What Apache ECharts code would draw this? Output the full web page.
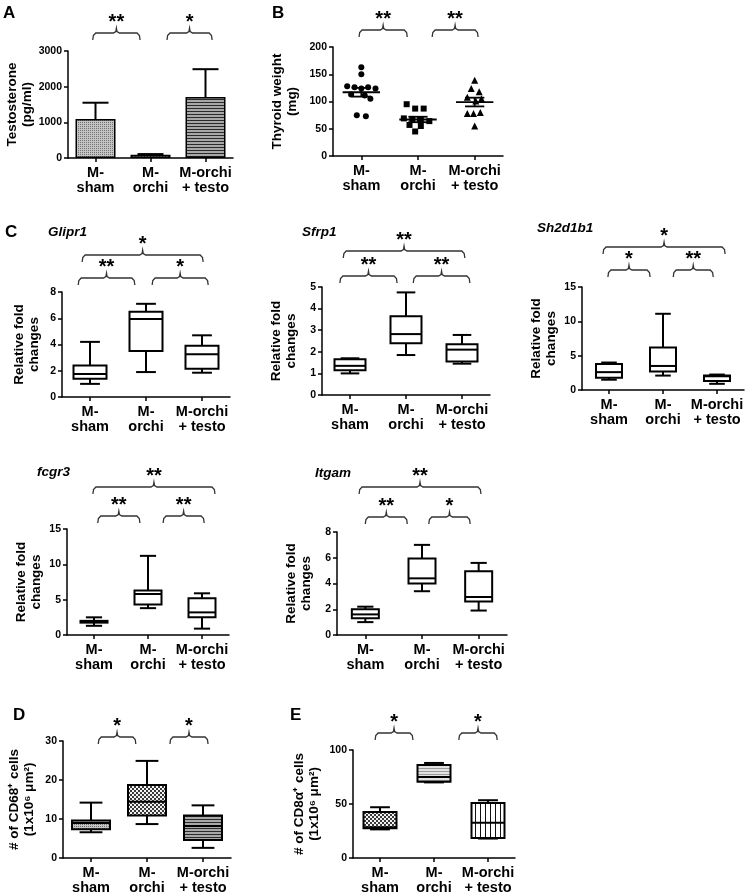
<!DOCTYPE html>
<html><head><meta charset="utf-8">
<script src="https://cdn.jsdelivr.net/npm/echarts@6/dist/echarts.min.js"></script>
<style>html,body{margin:0;padding:0;background:#fff}#c{width:750px;height:895px}</style>
</head><body><div id="c"></div>
<script>
// ---------------- DATA ----------------
const groups = ['M-\nsham', 'M-\norchi', 'M-orchi\n+ testo'];

// A: testosterone (pg/ml) mean and upper error
const testosteroneMean = [1090, 90, 1710];
const testosteroneUpper = [1550, 110, 2490];
const sigA = [[0, 1, '**'], [1, 2, '*']];

// B: thyroid weight (mg), individual animals
const thyroidSham  = [163, 150, 128, 126, 124, 126, 124, 113, 111, 105, 75, 73];
const thyroidOrchi = [95, 87, 87, 69, 68, 66, 64, 57, 55, 45];
const thyroidTesto = [139, 124, 118, 108, 105, 101, 78, 78, 80, 55];
const thyroidMean = [117, 67, 99];
const thyroidSem  = [8, 5, 8];
const sigB = [[0, 1, '**'], [1, 2, '**']];

// C: relative fold changes, boxes as [min, q1, median, q3, max]
const glipr1  = [[1.0, 1.4, 1.75, 2.4, 4.2], [1.9, 3.5, 5.95, 6.5, 7.1], [1.85, 2.15, 3.25, 3.9, 4.7]];
const sfrp1   = [[1.0, 1.15, 1.35, 1.65, 1.7], [1.85, 2.4, 2.82, 3.65, 4.75], [1.45, 1.55, 2.1, 2.35, 2.78]];
const sh2d1b1 = [[1.5, 1.8, 2.6, 3.8, 4.0], [2.1, 2.7, 3.5, 6.2, 11.1], [0.9, 1.3, 2.0, 2.1, 2.25]];
const fcgr3   = [[1.3, 1.75, 1.9, 2.0, 2.5], [3.8, 4.3, 5.8, 6.3, 11.2], [0.9, 2.5, 3.2, 5.2, 5.9]];
const itgam   = [[1.0, 1.3, 1.6, 2.0, 2.2], [3.4, 4.0, 4.4, 5.95, 7.0], [1.9, 2.6, 2.95, 4.95, 5.6]];
const sigGlipr1  = [[0, 2, '*'],  [0, 1, '**'], [1, 2, '*']];
const sigSfrp1   = [[0, 2, '**'], [0, 1, '**'], [1, 2, '**']];
const sigSh2d1b1 = [[0, 2, '*'],  [0, 1, '*'],  [1, 2, '**']];
const sigFcgr3   = [[0, 2, '**'], [0, 1, '**'], [1, 2, '**']];
const sigItgam   = [[0, 2, '**'], [0, 1, '**'], [1, 2, '*']];

// D: CD68+ cells, E: CD8a+ cells
const cd68 = [[6.6, 7.4, 9.0, 9.6, 14.2], [8.7, 10.9, 14.4, 18.7, 24.9], [2.6, 4.6, 8.2, 10.9, 13.5]];
const cd8a = [[26.5, 27.5, 28.5, 42.5, 47], [70, 70.6, 75, 86, 88], [18, 18.5, 32.7, 51, 53.5]];
const sigD = [[0, 1, '*'], [1, 2, '*']];
const sigE = [[0, 1, '*'], [1, 2, '*']];

// ---------------- STYLE / LAYOUT ----------------
const FONT = '"Liberation Sans", Arial, sans-serif';
const B_JIT = {
  sham:  [0, 0, -0.25, -0.12, 0, 0.12, 0.25, -0.18, 0.06, 0.16, -0.08, 0.08],
  orchi: [-0.2, -0.05, 0.1, -0.25, -0.1, 0.05, 0.2, -0.15, 0.05, -0.05],
  testo: [0, -0.06, 0.08, -0.13, 0.12, 0.02, -0.13, -0.02, 0.1, 0]
};

function makePattern(kind) {
  const c = document.createElement('canvas');
  let ctx;
  const set = (w, h) => { c.width = w; c.height = h; ctx = c.getContext('2d'); };
  const px = (x, y, col) => { ctx.fillStyle = col; ctx.fillRect(x, y, 1, 1); };
  if (kind === 'dots') {
    set(2, 2); ctx.fillStyle = '#c4c4c4'; ctx.fillRect(0, 0, 2, 2); px(0, 0, '#707070');
  } else if (kind === 'checker') {
    set(4, 4); ctx.fillStyle = '#f2f2f2'; ctx.fillRect(0, 0, 4, 4);
    ctx.fillStyle = '#3a3a3a'; ctx.fillRect(0, 0, 2, 2); ctx.fillRect(2, 2, 2, 2);
  } else if (kind === 'checkerLight') {
    set(3, 3); ctx.fillStyle = '#ffffff'; ctx.fillRect(0, 0, 3, 3); px(0, 0, '#555'); px(1, 1, '#999');
  } else if (kind === 'hstripes') {
    set(1, 3); ctx.fillStyle = '#2a2a2a'; ctx.fillRect(0, 0, 1, 1); ctx.fillStyle = '#a8a8a8'; ctx.fillRect(0, 1, 1, 2);
  } else if (kind === 'hlight') {
    set(1, 3); ctx.fillStyle = '#9a9a9a'; ctx.fillRect(0, 0, 1, 1); ctx.fillStyle = '#e2e2e2'; ctx.fillRect(0, 1, 1, 2);
  } else if (kind === 'vlines') {
    set(5, 1); ctx.fillStyle = '#ffffff'; ctx.fillRect(0, 0, 5, 1); px(0, 0, '#111');
  }
  return { image: c, repeat: 'repeat' };
}

const L = {
  A:       { g: [68, 51, 165, 107],  max: 3000, step: 1000, name: 'Testosterone\n(pg/ml)', gap: 27, lo: 18, brk: [[-0.05, 0.81], [1.3, 2.12]] },
  B:       { g: [333, 47, 170, 109], max: 200, step: 50, name: 'Thyroid weight\n(mg)', gap: 33, lo: 17, brk: [[-0.04, 0.81], [1.25, 2.06]] },
  Glipr1:  { g: [62, 292, 168, 105], max: 8, step: 2, name: 'Relative fold\nchanges', gap: 20, lo: 14, hi: 37, bw: 33, brk: [[-0.14, 2.02], [-0.21, 0.8], [1.11, 2.11]] },
  Sfrp1:   { g: [322, 287, 168, 108], max: 5, step: 1, name: 'Relative fold\nchanges', gap: 23, lo: 11, hi: 36, bw: 31, brk: [[-0.12, 2.05], [-0.18, 0.84], [1.13, 2.14]] },
  Sh2d1b1: { g: [582, 287, 162, 103], max: 15, step: 5, name: 'Relative fold\nchanges', gap: 23, lo: 17, hi: 40, bw: 26, brk: [[-0.11, 2.15], [-0.02, 0.76], [1.19, 1.93]] },
  fcgr3:   { g: [67, 529, 162, 106], max: 15, step: 5, name: 'Relative fold\nchanges', gap: 23, lo: 13, hi: 42, bw: 27, brk: [[-0.02, 2.24], [0.07, 0.85], [1.28, 2.04]] },
  Itgam:   { g: [337, 532, 170, 103], max: 8, step: 2, name: 'Relative fold\nchanges', gap: 23, lo: 15, hi: 45, bw: 27, brk: [[-0.11, 2.04], [0, 0.74], [1.12, 1.85]] },
  D:       { g: [63, 741, 168, 117], max: 30, step: 10, name: '# of CD68\u207A cells\n(1x10\u2076 \u03BCm\u00B2)', gap: 26, lo: 4, bw: 38, brk: [[0.13, 0.8], [1.41, 2.09]] },
  E:       { g: [353, 750, 162, 108], max: 100, step: 50, name: '# of CD8\u03B1\u207A cells\n(1x10\u2076 \u03BCm\u00B2)', gap: 31, lo: 17, bw: 33, brk: [[-0.09, 0.61], [1.46, 2.17]] }
};

const grids = [], xAxes = [], yAxes = [], series = [];

function catAxis(gi) {
  return {
    type: 'category', gridIndex: gi, data: groups, boundaryGap: true,
    axisLine: { show: true, onZero: false, lineStyle: { color: '#000', width: 1.5 } },
    axisTick: { show: true, alignWithLabel: true, length: 4, lineStyle: { color: '#000', width: 1.5 } },
    axisLabel: { interval: 0, color: '#000', fontFamily: FONT, fontWeight: 'bold', fontSize: 14.5, lineHeight: 15, margin: 7 },
    splitLine: { show: false }
  };
}
function valAxis(gi, c) {
  return {
    type: 'value', gridIndex: gi, min: 0, max: c.max, interval: c.step,
    name: c.name, nameLocation: 'middle', nameGap: c.gap,
    nameTextStyle: { color: '#000', fontFamily: FONT, fontWeight: 'bold', fontSize: 13.5, lineHeight: 15 },
    axisLine: { show: true, onZero: false, lineStyle: { color: '#000', width: 1.5 } },
    axisTick: { show: true, length: 4, lineStyle: { color: '#000', width: 1.5 } },
    axisLabel: { color: '#000', fontFamily: FONT, fontWeight: 'bold', fontSize: 10.5, margin: 6, formatter: v => String(v) },
    splitLine: { show: false }
  };
}
function addPanel(key) {
  const c = L[key];
  const gi = grids.length;
  grids.push({ left: c.g[0], top: c.g[1], width: c.g[2], height: c.g[3], containLabel: false });
  const xi = xAxes.length; xAxes.push(catAxis(gi));
  const yi = yAxes.length; yAxes.push(valAxis(gi, c));
  return { gi, xi, yi, c };
}

function bracketSeries(ax, sig) {
  const c = ax.c;
  return {
    type: 'custom', xAxisIndex: ax.xi, yAxisIndex: ax.yi, silent: true, z: 5,
    data: sig.map(s => [s[0], c.max]),
    renderItem(params, api) {
      const k = params.dataIndex, s = sig[k], sp = c.brk[k];
      const c0 = api.coord([0, c.max]), c1 = api.coord([1, c.max]);
      const u = c1[0] - c0[0];
      const x1 = c0[0] + sp[0] * u, x2 = c0[0] + sp[1] * u, xm = (x1 + x2) / 2;
      const y = c0[1] - ((s[1] - s[0]) > 1 ? c.hi : c.lo);
      return {
        type: 'group', children: [
          { type: 'polyline', shape: { points: [[x1, y + 7], [x1 + 0.6, y + 2.5], [x1 + 3, y], [xm - 3, y], [xm - 0.6, y - 1.5], [xm, y - 5], [xm + 0.6, y - 1.5], [xm + 3, y], [x2 - 3, y], [x2 - 0.6, y + 2.5], [x2, y + 7]] },
            style: { stroke: '#333', lineWidth: 1.3, fill: 'none' } },
          { type: 'text', x: xm, y: y - 1, style: { text: s[2], fill: '#000', fontFamily: FONT, fontWeight: 'bold', fontSize: 20, align: 'center', verticalAlign: 'bottom' } }
        ]
      };
    }
  };
}

function boxSeries(ax, boxes, fills) {
  const bw = ax.c.bw;
  return {
    type: 'custom', xAxisIndex: ax.xi, yAxisIndex: ax.yi, silent: true, z: 4,
    data: boxes.map((b, i) => [i].concat(b)),
    encode: { x: 0, y: [1, 2, 3, 4, 5] },
    renderItem(params, api) {
      const i = api.value(0);
      const p = [1, 2, 3, 4, 5].map(d => api.coord([i, api.value(d)]));
      const x = p[0][0], hw = bw / 2, cw = bw * 0.3;
      const ln = (x1, y1, x2, y2) => ({ type: 'line', shape: { x1, y1, x2, y2 }, style: { stroke: '#000', lineWidth: 2 } });
      return {
        type: 'group', children: [
          ln(x, p[4][1], x, p[3][1]), ln(x, p[1][1], x, p[0][1]),
          ln(x - cw, p[4][1], x + cw, p[4][1]), ln(x - cw, p[0][1], x + cw, p[0][1]),
          { type: 'rect', shape: { x: x - hw, y: p[3][1], width: bw, height: p[1][1] - p[3][1] }, style: { fill: fills[i], stroke: '#000', lineWidth: 2 } },
          ln(x - hw, p[2][1], x + hw, p[2][1])
        ]
      };
    }
  };
}

// ---- Panel A ----
const pA = addPanel('A');
const fillsA = [makePattern('dots'), makePattern('checkerLight'), makePattern('hstripes')];
series.push({
  type: 'bar', xAxisIndex: pA.xi, yAxisIndex: pA.yi, barWidth: 40, silent: true, z: 3,
  data: testosteroneMean.map((v, i) => ({ value: v, itemStyle: { color: fillsA[i], borderColor: '#000', borderWidth: 1.5 } }))
});
series.push({
  type: 'custom', xAxisIndex: pA.xi, yAxisIndex: pA.yi, silent: true, z: 4,
  data: testosteroneMean.map((m, i) => [i, m, testosteroneUpper[i]]),
  encode: { x: 0, y: [1, 2] },
  renderItem(params, api) {
    const i = api.value(0);
    const a = api.coord([i, api.value(1)]), b = api.coord([i, api.value(2)]);
    const st = { stroke: '#000', lineWidth: 2 };
    return { type: 'group', children: [
      { type: 'line', shape: { x1: a[0], y1: a[1], x2: b[0], y2: b[1] }, style: st },
      { type: 'line', shape: { x1: b[0] - 13, y1: b[1], x2: b[0] + 13, y2: b[1] }, style: st }
    ] };
  }
});
series.push(bracketSeries(pA, sigA));

// ---- Panel B ----
const pB = addPanel('B');
const bValueAxis = xAxes.length;
xAxes.push({ type: 'value', gridIndex: pB.gi, min: -0.5, max: 2.5, show: false,
  axisLine: { show: false, onZero: false }, splitLine: { show: false } });
const scatterB = [
  [thyroidSham, B_JIT.sham, 'circle', 6],
  [thyroidOrchi, B_JIT.orchi, 'rect', 6],
  [thyroidTesto, B_JIT.testo, 'triangle', 7]
];
scatterB.forEach((s, gIdx) => {
  series.push({
    type: 'scatter', xAxisIndex: bValueAxis, yAxisIndex: pB.yi, silent: true, z: 3,
    symbol: s[2], symbolSize: s[3], itemStyle: { color: '#000', opacity: 1 },
    data: s[0].map((v, k) => [gIdx + s[1][k], v])
  });
});
series.push({
  type: 'custom', xAxisIndex: pB.xi, yAxisIndex: pB.yi, silent: true, z: 4,
  data: thyroidMean.map((m, i) => [i, m, thyroidSem[i]]),
  encode: { x: 0, y: 1 },
  renderItem(params, api) {
    const i = api.value(0), m = api.value(1), e = api.value(2);
    const u = api.size([1, 0])[0];
    const pm = api.coord([i, m]), ph = api.coord([i, m + e]), pl = api.coord([i, m - e]);
    const st = { stroke: '#000', lineWidth: 1.8 };
    const x = pm[0];
    return { type: 'group', children: [
      { type: 'line', shape: { x1: x - 0.33 * u, y1: pm[1], x2: x + 0.33 * u, y2: pm[1] }, style: st },
      { type: 'line', shape: { x1: x, y1: ph[1], x2: x, y2: pl[1] }, style: st },
      { type: 'line', shape: { x1: x - 0.17 * u, y1: ph[1], x2: x + 0.17 * u, y2: ph[1] }, style: st },
      { type: 'line', shape: { x1: x - 0.17 * u, y1: pl[1], x2: x + 0.17 * u, y2: pl[1] }, style: st }
    ] };
  }
});
series.push(bracketSeries(pB, sigB));

// ---- Panel C ----
const white = ['#fff', '#fff', '#fff'];
[['Glipr1', glipr1, sigGlipr1], ['Sfrp1', sfrp1, sigSfrp1], ['Sh2d1b1', sh2d1b1, sigSh2d1b1],
 ['fcgr3', fcgr3, sigFcgr3], ['Itgam', itgam, sigItgam]].forEach(([key, data, sig]) => {
  const p = addPanel(key);
  series.push(boxSeries(p, data, white));
  series.push(bracketSeries(p, sig));
});

// ---- Panel D ----
const pD = addPanel('D');
series.push(boxSeries(pD, cd68, [makePattern('dots'), makePattern('checker'), makePattern('hstripes')]));
series.push(bracketSeries(pD, sigD));

// ---- Panel E ----
const pE = addPanel('E');
series.push(boxSeries(pE, cd8a, [makePattern('checker'), makePattern('hlight'), makePattern('vlines')]));
series.push(bracketSeries(pE, sigE));

// ---- titles ----
function label(text, x, y, size, italic) {
  return { type: 'text', x, y, silent: true,
    style: { text, fill: '#000', fontFamily: FONT, fontWeight: 'bold', fontStyle: italic ? 'italic' : 'normal', fontSize: size, verticalAlign: 'middle' } };
}
const graphics = [
  label('A', 3, 13, 17), label('B', 272, 13, 17),
  label('C', 5, 232, 17), label('Glipr1', 48, 232, 13.5, true),
  label('Sfrp1', 302, 232, 13.5, true), label('Sh2d1b1', 537, 228, 13.5, true),
  label('fcgr3', 37, 472, 13.5, true), label('Itgam', 315, 473, 13.5, true),
  label('D', 13, 715, 17), label('E', 290, 715, 17)
];

const chart = echarts.init(document.getElementById('c'), null, { renderer: 'canvas', width: 750, height: 895 });
chart.setOption({
  animation: false,
  backgroundColor: '#fff',
  grid: grids, xAxis: xAxes, yAxis: yAxes, series: series,
  graphic: graphics
});
</script>
</body></html>
